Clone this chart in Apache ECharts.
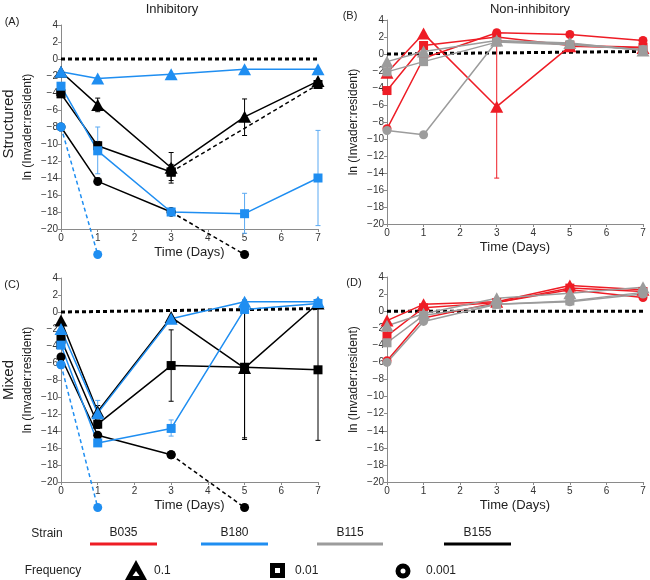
<!DOCTYPE html>
<html><head><meta charset="utf-8">
<script src="https://cdn.jsdelivr.net/npm/echarts@6/dist/echarts.min.js"></script>
<style>html,body{margin:0;padding:0;background:#fff}#c{width:650px;height:580px}</style>
</head><body><div id="c"></div>
<script>
// ---------- data ----------
const days = [0, 1, 3, 5, 7];
const yTicks = [-20, -18, -16, -14, -12, -10, -8, -6, -4, -2, 0, 2, 4];
const strains = ['B035', 'B180', 'B115', 'B155'];
const frequencies = ['0.1', '0.01', '0.001'];
// -23 = extinct (plotted below the axis floor)

// Panel A: Structured, Inhibitory
const A_B155_tri  = [-1.5, -5.4, -12.8, -6.8, -2.6];
const A_B155_sq   = [-4.1, -10.2, -13.3, null, -3.0];
const A_B155_circ = [-8.0, -14.4, -18.0, -23, null];
const A_B180_tri  = [-1.5, -2.3, -1.8, -1.2, -1.2];
const A_B180_sq   = [-3.2, -10.8, -18.0, -18.2, -14.0];
const A_B180_circ = [-8.0, -23, null, null, null];
const A_B155_tri_err  = [[1, -6.2, -4.6], [3, -14.6, -11.0], [5, -9.0, -4.7]];
const A_B155_sq_err   = [[1, -10.7, -9.7], [3, -14.3, -12.4]];
const A_B155_circ_err = [[1, -14.8, -14.0], [3, -18.4, -17.6]];
const A_B180_sq_err   = [[1, -13.5, -8.0], [3, -18.4, -17.5], [5, -20.5, -15.8], [7, -19.6, -8.4]];

// Panel B: Structured, Non-inhibitory
const B_B035_tri  = [-2.2, 2.4, -6.2, 0.9, 0.7];
const B_B035_sq   = [-4.3, 1.0, 2.0, 1.0, 0.8];
const B_B035_circ = [-8.8, -0.5, 2.5, 2.3, 1.6];
const B_B115_tri  = [-0.9, 0.3, 1.6, 1.3, 0.4];
const B_B115_sq   = [-2.1, -0.9, 1.4, 1.1, 0.5];
const B_B115_circ = [-9.0, -9.5, 1.5, 1.2, 0.5];
const B_B035_tri_err = [[3, -14.6, 2.0]];

// Panel C: Mixed, Inhibitory
const C_B155_tri  = [-1.0, -11.7, -0.6, -6.6, 1.0];
const C_B155_sq   = [-3.2, -13.2, -6.3, -6.5, -6.8];
const C_B155_circ = [-5.3, -14.5, -16.8, -23, null];
const C_B180_tri  = [-2.0, -11.9, -0.8, 1.2, 1.2];
const C_B180_sq   = [-3.9, -15.4, -13.7, 0.3, 1.0];
const C_B180_circ = [-6.2, -23, null, null, null];
const C_B155_tri_err = [[1, -12.2, -11.0], [5, -14.8, 1.4]];
const C_B155_sq_err  = [[1, -13.7, -12.7], [3, -10.5, -2.1], [5, -15.0, 1.2], [7, -15.1, 1.5]];
const C_B180_tri_err = [[1, -12.3, -10.4]];
const C_B180_sq_err  = [[3, -14.6, -12.7]];

// Panel D: Mixed, Non-inhibitory
const D_B035_tri  = [-1.1, 0.8, 1.1, 3.0, 2.5];
const D_B035_sq   = [-2.9, 0.4, 1.0, 2.7, 2.3];
const D_B035_circ = [-5.8, -0.8, 1.0, 2.5, 1.6];
const D_B115_tri  = [-1.7, -0.3, 1.5, 2.1, 2.8];
const D_B115_sq   = [-3.7, -0.5, 0.8, 1.2, 2.2];
const D_B115_circ = [-6.0, -1.2, 0.8, 1.1, 2.0];

// reference (zero) line end values per panel
const zeroLineA = [0, 0], zeroLineB = [0, 0.3], zeroLineC = [0, 0.4], zeroLineD = [0, 0];

// ---------- styling ----------
const COL = { B035: '#ee1c25', B180: '#1f8ef1', B115: '#9c9c9c', B155: '#000000' };
const SYM = { tri: 'triangle', sq: 'rect', circ: 'circle' };
const SIZE = { tri: [13, 12], sq: 9, circ: 9 };

const grids = [
  { left: 61, top: 25, width: 257, height: 204 },
  { left: 387, top: 20, width: 256, height: 204 },
  { left: 61, top: 278, width: 257, height: 204 },
  { left: 387, top: 277, width: 256, height: 205 }
];

const xAxes = grids.map((g, i) => ({
  gridIndex: i, type: 'value', min: 0, max: 7, interval: 1,
  axisLine: { onZero: false, lineStyle: { color: '#8a8a8a', width: 1 } },
  axisTick: { length: 3, lineStyle: { color: '#8a8a8a' } },
  axisLabel: { fontSize: 10, color: '#333', margin: 4, fontFamily: 'Liberation Sans' },
  splitLine: { show: false },
  name: 'Time (Days)', nameLocation: 'middle', nameGap: 17,
  nameTextStyle: { fontSize: 13, color: '#222', fontFamily: 'Liberation Sans' }
}));
const yAxes = grids.map((g, i) => ({
  gridIndex: i, type: 'value', min: yTicks[0], max: yTicks[yTicks.length - 1], interval: 2,
  axisLine: { show: true, onZero: false, lineStyle: { color: '#8a8a8a', width: 1 } },
  axisTick: { show: true, length: 3, lineStyle: { color: '#8a8a8a' } },
  axisLabel: { fontSize: 10, color: '#333', margin: 3, fontFamily: 'Liberation Sans',
    formatter: v => String(v).replace('-', '\u2212') },
  splitLine: { show: false },
  name: 'ln (Invader:resident)', nameLocation: 'middle', nameGap: 27, nameRotate: 90,
  nameTextStyle: { fontSize: 12, color: '#222', fontFamily: 'Liberation Sans' }
}));

const series = [];

function zeroLine(gi, ends) {
  series.push({
    type: 'line', xAxisIndex: gi, yAxisIndex: gi, silent: true, symbol: 'none', z: 1,
    data: [[0, ends[0]], [7, ends[1]]],
    lineStyle: { color: '#000', width: 3, type: [4, 3] }
  });
}

function errBars(gi, errs, color) {
  series.push({
    type: 'custom', xAxisIndex: gi, yAxisIndex: gi, silent: true, z: 2,
    data: errs,
    renderItem: (params, api) => {
      const lo = api.coord([api.value(0), api.value(1)]);
      const hi = api.coord([api.value(0), api.value(2)]);
      const st = { stroke: color, lineWidth: 1 };
      return { type: 'group', children: [
        { type: 'line', shape: { x1: lo[0], y1: lo[1], x2: hi[0], y2: hi[1] }, style: st },
        { type: 'line', shape: { x1: lo[0] - 2.5, y1: lo[1], x2: lo[0] + 2.5, y2: lo[1] }, style: st },
        { type: 'line', shape: { x1: hi[0] - 2.5, y1: hi[1], x2: hi[0] + 2.5, y2: hi[1] }, style: st }
      ] };
    }
  });
}

function addLine(gi, vals, strain, shape, dashFrom) {
  const pts = days.map((d, i) => [d, vals[i]]).filter(p => p[1] !== null);
  const color = COL[strain];
  const base = {
    type: 'line', xAxisIndex: gi, yAxisIndex: gi, clip: false, silent: true, z: 3,
    symbol: SYM[shape], symbolSize: SIZE[shape], showAllSymbol: true,
    itemStyle: { color: color, borderWidth: 0 },
    lineStyle: { color: color, width: 1.5 }
  };
  if (dashFrom === undefined) {
    series.push(Object.assign({}, base, { data: pts }));
  } else {
    const solid = pts.filter(p => p[0] <= dashFrom);
    const dashed = pts.filter(p => p[0] >= dashFrom);
    series.push(Object.assign({}, base, { data: dashed, lineStyle: { color: color, width: 1.5, type: [4, 3] } }));
    series.push(Object.assign({}, base, { data: solid }));
  }
}

// Panel A
zeroLine(0, zeroLineA);
errBars(0, A_B155_tri_err, '#000');
errBars(0, A_B155_sq_err, '#000');
errBars(0, A_B155_circ_err, '#000');
errBars(0, A_B180_sq_err, '#5aa9f2');
addLine(0, A_B155_tri, 'B155', 'tri');
addLine(0, A_B155_sq, 'B155', 'sq', 3);
addLine(0, A_B155_circ, 'B155', 'circ', 3);
addLine(0, A_B180_tri, 'B180', 'tri');
addLine(0, A_B180_sq, 'B180', 'sq');
addLine(0, A_B180_circ, 'B180', 'circ', 0);

// Panel B
zeroLine(1, zeroLineB);
errBars(1, B_B035_tri_err, COL.B035);
addLine(1, B_B035_tri, 'B035', 'tri');
addLine(1, B_B035_sq, 'B035', 'sq');
addLine(1, B_B035_circ, 'B035', 'circ');
addLine(1, B_B115_tri, 'B115', 'tri');
addLine(1, B_B115_sq, 'B115', 'sq');
addLine(1, B_B115_circ, 'B115', 'circ');

// Panel C
zeroLine(2, zeroLineC);
errBars(2, C_B155_tri_err, '#000');
errBars(2, C_B155_sq_err, '#000');
errBars(2, C_B180_tri_err, '#5aa9f2');
errBars(2, C_B180_sq_err, '#5aa9f2');
addLine(2, C_B155_tri, 'B155', 'tri');
addLine(2, C_B155_sq, 'B155', 'sq');
addLine(2, C_B155_circ, 'B155', 'circ', 3);
addLine(2, C_B180_tri, 'B180', 'tri');
addLine(2, C_B180_sq, 'B180', 'sq');
addLine(2, C_B180_circ, 'B180', 'circ', 0);

// Panel D
zeroLine(3, zeroLineD);
addLine(3, D_B035_tri, 'B035', 'tri');
addLine(3, D_B035_sq, 'B035', 'sq');
addLine(3, D_B035_circ, 'B035', 'circ');
addLine(3, D_B115_tri, 'B115', 'tri');
addLine(3, D_B115_sq, 'B115', 'sq');
addLine(3, D_B115_circ, 'B115', 'circ');

// ---------- text & legend graphics ----------
const F = 'Liberation Sans';
function txt(x, y, s, size, opts) {
  return Object.assign({ type: 'text', x: x, y: y, silent: true,
    style: Object.assign({ text: s, font: size + 'px "' + F + '"', fill: '#222', align: 'center', verticalAlign: 'middle' }, (opts && opts.style) || {}) },
    (opts && opts.el) || {});
}
const graphic = [
  txt(172, 9, 'Inhibitory', 13),
  txt(530, 9, 'Non-inhibitory', 13),
  txt(12, 22, '(A)', 11),
  txt(350, 16, '(B)', 11),
  txt(12, 285, '(C)', 11),
  txt(354, 283, '(D)', 11),
  txt(9, 124, 'Structured', 15, { el: { rotation: Math.PI / 2 } }),
  txt(9, 380, 'Mixed', 15, { el: { rotation: Math.PI / 2 } }),
  txt(47, 534, 'Strain', 12),
  txt(53, 571, 'Frequency', 12)
];
const strainPos = [[90, 157], [201, 268], [317, 383], [444, 511]];
strains.forEach((s, i) => {
  const [a, b] = strainPos[i];
  graphic.push(txt((a + b) / 2, 533, s, 12));
  graphic.push({ type: 'line', silent: true, shape: { x1: a, y1: 544, x2: b, y2: 544 },
    style: { stroke: COL[s], lineWidth: 3 } });
});
// frequency symbols
graphic.push({ type: 'polygon', silent: true, shape: { points: [[136, 560], [147, 580], [125, 580]] }, style: { fill: '#000' } });
graphic.push({ type: 'polygon', silent: true, shape: { points: [[136, 571], [139.5, 576], [132.5, 576]] }, style: { fill: '#fff' } });
graphic.push({ type: 'rect', silent: true, shape: { x: 270, y: 563, width: 15, height: 15 }, style: { fill: '#000' } });
graphic.push({ type: 'rect', silent: true, shape: { x: 275, y: 568, width: 5, height: 5 }, style: { fill: '#fff' } });
graphic.push({ type: 'circle', silent: true, shape: { cx: 403, cy: 571, r: 7.5 }, style: { fill: '#000' } });
graphic.push({ type: 'circle', silent: true, shape: { cx: 403, cy: 571, r: 2.5 }, style: { fill: '#fff' } });
const freqX = [154, 295, 426];
frequencies.forEach((f, i) => graphic.push(txt(freqX[i], 571, f, 12, { style: { align: 'left' } })));

const chart = echarts.init(document.getElementById('c'), null, { renderer: 'canvas' });
chart.setOption({
  animation: false,
  backgroundColor: '#fff',
  textStyle: { fontFamily: F },
  grid: grids,
  xAxis: xAxes,
  yAxis: yAxes,
  series: series,
  graphic: graphic
});
</script></body></html>
